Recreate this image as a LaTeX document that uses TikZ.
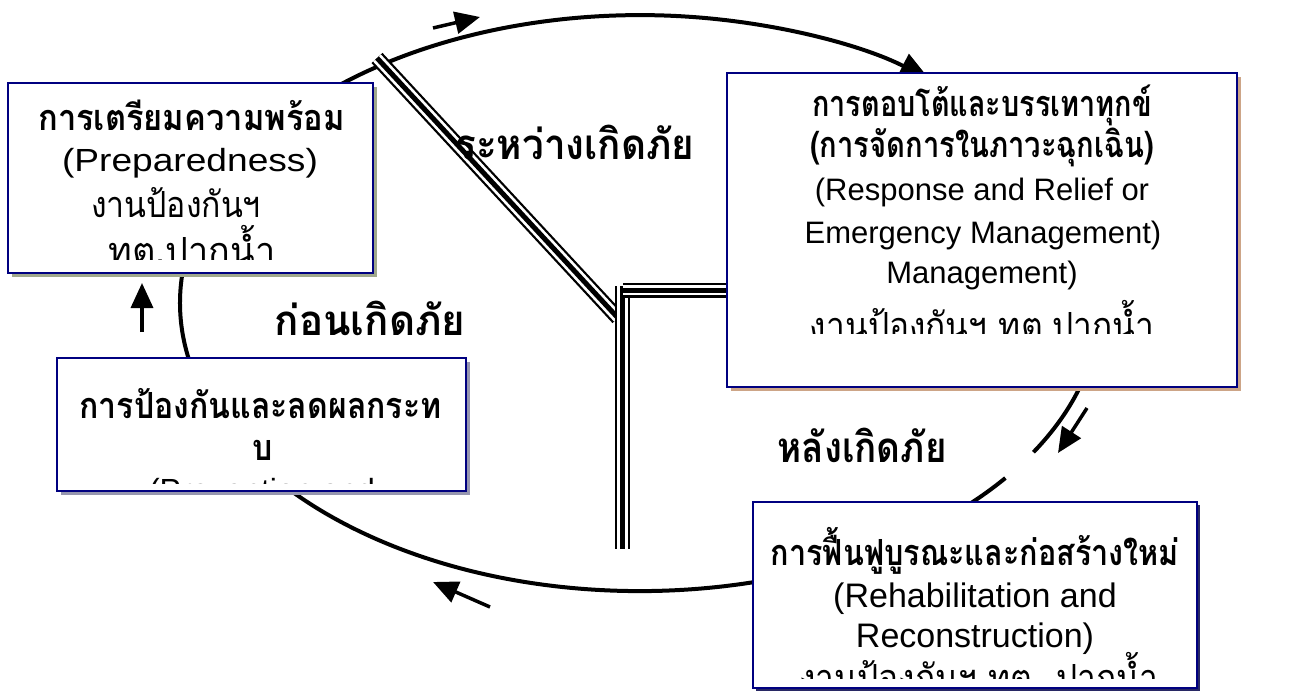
\documentclass[tikz,border=0pt]{standalone}
\usepackage{fontspec}
\usepackage{graphicx}
\setmainfont{Liberation Sans}
\newfontfamily\thai[Script=Thai]{Loma}
\usetikzlibrary{arrows.meta}
\definecolor{bnavy}{RGB}{0,0,128}
\definecolor{shprep}{RGB}{160,168,140}
\definecolor{shprev}{RGB}{150,150,175}
\definecolor{shresp}{RGB}{205,165,135}
\definecolor{shreh}{RGB}{40,40,100}
\newcommand\fs[1]{\fontsize{#1}{#1}\selectfont}
\newcommand\sx[2]{\scalebox{#1}[1]{#2}}
\begin{document}
\begin{tikzpicture}[x=1pt,y=-1pt,
  boxframe/.style={draw=bnavy,line width=2.5pt,fill=white},
  ring/.style={line width=4pt,line cap=butt},
  trip/.style={line width=5pt,line cap=butt,preaction={draw,line width=2.25pt,double=white,double distance=10.5pt,line cap=butt}},
  flow/.style={line width=3.5pt,-{Triangle[length=25pt,width=22pt]}},
  txt/.style={anchor=base,inner sep=0pt,text=black},
  lab/.style={anchor=base,inner sep=0pt,font=\thai\bfseries\fs{42}}]
\useasboundingbox (0,0) rectangle (1304,691);
% cycle
\draw[ring,-{Triangle[length=30pt,width=26pt]}] (1005.4,478) arc[start angle=-37.4,end angle=-309,x radius=460pt,y radius=288pt];
\draw[ring] (1093,253) arc[start angle=10,end angle=-31.2,x radius=460pt,y radius=288pt];
% phase dividers
\coordinate (dA) at (377,58);
\coordinate (dB) at (618,318);
\coordinate (vA) at (622.5,286);
\coordinate (vB) at (622.5,549);
\coordinate (hA) at (623,290);
\coordinate (hB) at (728,290);
\draw[trip] (dA) -- (dB);
\draw[trip] (vA) -- (vB);
\draw[trip] (hA) -- (hB);
% shadows
\fill[shprep] (12,87) rectangle (377,277);
\fill[shprev] (61,362) rectangle (470,495);
\fill[shresp] (731,77) rectangle (1241,391);
\fill[shreh] (756,505) rectangle (1200,691);
% boxes
\draw[boxframe] (8,83) rectangle (373,273);
\draw[boxframe] (57,358) rectangle (466,491);
\draw[boxframe] (727,73) rectangle (1237,387);
\draw[boxframe] (753,502) rectangle (1197,688);
% preparedness text
\begin{scope}
\clip (10,85) rectangle (371,259);
\node[txt] (p1) at (191.5,130) {\sx{0.907}{\thai\bfseries\fs{36}การเตรียมความพร้อม}};
\node[txt] (p2) at (190,171) {\sx{1.16}{\fs{32}(Preparedness)}};
\node[txt] (p3) at (176,217) {\sx{0.889}{\thai\fs{36}งานป้องกันฯ}};
\node[txt] (p4) at (192,263) {\sx{1.0}{\thai\fs{36}ทต.ปากน้ำ}};
\end{scope}
% prevention text
\begin{scope}
\clip (59,360) rectangle (464,483);
\node[txt] (m1) at (260.5,418) {\sx{0.89}{\thai\bfseries\fs{36}การป้องกันและลดผลกระท}};
\node[txt] (m2) at (262.5,460) {\sx{0.89}{\thai\bfseries\fs{36}บ}};
\node[txt] (m3) at (262,501) {\fs{32}(Prevention and};
\end{scope}
% response text
\begin{scope}
\clip (729,75) rectangle (1235,333);
\node[txt] (r1) at (982,116) {\sx{0.80}{\thai\bfseries\fs{36}การตอบโต้และบรรเทาทุกข์}};
\node[txt] (r2) at (982,157) {\sx{0.81}{\thai\bfseries\fs{36}(การจัดการในภาวะฉุกเฉิน)}};
\node[txt] (r3) at (982,200) {\fs{31}(Response and Relief or};
\node[txt] (r4) at (983,243) {\fs{31}Emergency Management)};
\node[txt] (r5) at (982,283) {\fs{31}Management)};
\node[txt] (r6) at (982,338) {\sx{0.93}{\thai\fs{36}งานป้องกันฯ ทต.ปากน้ำ}};
\end{scope}
% rehabilitation text
\begin{scope}
\clip (755,504) rectangle (1195,678);
\node[txt] (h1) at (975,565) {\sx{0.85}{\thai\bfseries\fs{36}การฟื้นฟูบูรณะและก่อสร้างใหม่}};
\node[txt] (h2) at (975,607) {\fs{34}(Rehabilitation and};
\node[txt] (h3) at (975,647) {\fs{34}Reconstruction)};
\node[txt] (h4) at (979,690) {\sx{0.93}{\thai\fs{36}งานป้องกันฯ ทต. ปากน้ำ}};
\end{scope}
% phase labels
\node[lab] (during) at (575,159) {\sx{0.92}{ระหว่างเกิดภัย}};
\node[lab] (before) at (370,335) {\sx{0.96}{ก่อนเกิดภัย}};
\node[lab] (after) at (862,462) {\sx{0.876}{หลังเกิดภัย}};
% direction arrows
\coordinate (a1s) at (433,28);  \coordinate (a1e) at (480,17);
\coordinate (a2s) at (1087,408); \coordinate (a2e) at (1058,453);
\coordinate (a3s) at (490,607); \coordinate (a3e) at (433,582);
\coordinate (a4s) at (142,332); \coordinate (a4e) at (142,283);
\draw[flow] (a1s) -- (a1e);
\draw[flow] (a2s) -- (a2e);
\draw[flow] (a3s) -- (a3e);
\draw[flow] (a4s) -- (a4e);
\end{tikzpicture}
\end{document}
